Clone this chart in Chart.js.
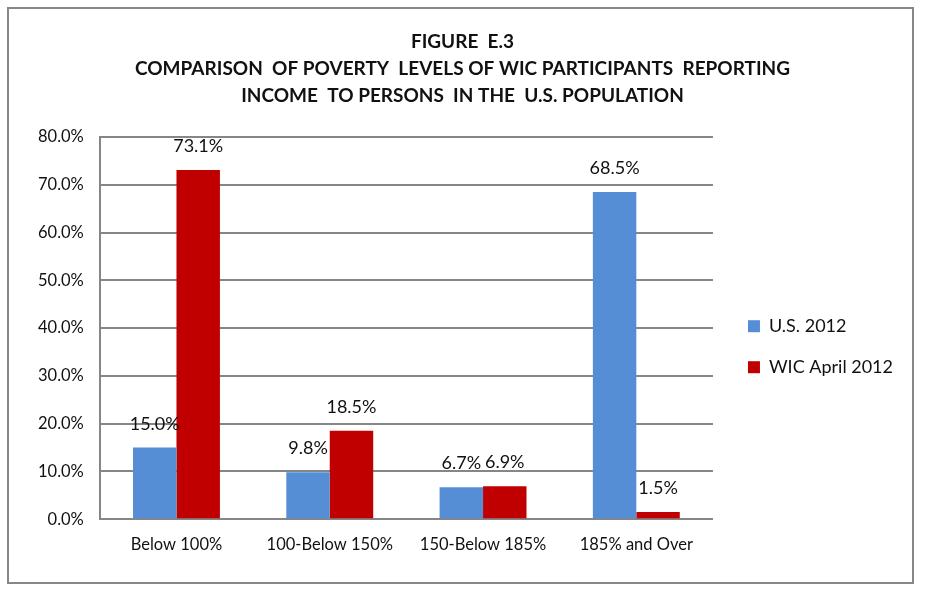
<!DOCTYPE html>
<html lang="en">
<head>
<meta charset="UTF-8">
<title>Figure E.3</title>
<script src="https://cdn.jsdelivr.net/npm/chart.js"></script>
<style>
  body { margin: 0; background: #fff; }
  #wrap { position: relative; width: 925px; height: 590px; }
  #frame { position: absolute; left: 7px; top: 7px; width: 903px; height: 573px; border: 2px solid #878787; pointer-events: none; }
</style>
</head>
<body>
<div id="wrap">
  <canvas id="grafico" width="925" height="590"></canvas>
  <div id="frame"></div>
</div>
<script>
  // dados
  const categorias = ['Below 100%', '100-Below 150%', '150-Below 185%', '185% and Over'];
  const us2012 = [15.0, 9.8, 6.7, 68.5];
  const wic2012 = [73.1, 18.5, 6.9, 1.5];
  const titulo = ['FIGURE  E.3', 'COMPARISON  OF POVERTY  LEVELS OF WIC PARTICIPANTS  REPORTING', 'INCOME  TO PERSONS  IN THE  U.S. POPULATION'];

  const fonte = 'Lato';
  const cinza = '#868686';

  // rotulos em cima das barras
  const rotulos = {
    id: 'rotulos',
    afterDatasetsDraw(chart) {
      const ctx = chart.ctx;
      ctx.save();
      ctx.font = '18px ' + fonte;
      ctx.fillStyle = '#111';
      ctx.textAlign = 'center';
      ctx.textBaseline = 'alphabetic';
      chart.data.datasets.forEach((ds, i) => {
        chart.getDatasetMeta(i).data.forEach((bar, j) => {
          ctx.fillText(ds.data[j].toFixed(1) + '%', bar.x, bar.y - 18);
        });
      });
      ctx.restore();
    }
  };

  const grafico = new Chart(document.getElementById('grafico'), {
    type: 'bar',
    data: {
      labels: categorias,
      datasets: [
        { label: 'U.S. 2012', data: us2012, backgroundColor: '#558ED5' },
        { label: 'WIC April 2012', data: wic2012, backgroundColor: '#C00000' }
      ]
    },
    options: {
      responsive: false,
      animation: false,
      devicePixelRatio: 1,
      datasets: { bar: { barPercentage: 1, categoryPercentage: 0.567 } },
      layout: { padding: { left: 22, right: 22, bottom: 19, top: 0 } },
      plugins: {
        tooltip: { enabled: false },
        title: {
          display: true,
          text: titulo,
          color: '#111',
          font: { family: fonte, size: 19, weight: 'bold', lineHeight: 1.42 },
          padding: { top: 28, bottom: 28 }
        },
        legend: {
          position: 'right',
          maxWidth: 260,
          title: { display: true, text: ' ', font: { size: 12, lineHeight: 1.2 }, padding: { top: 54, bottom: 54 } },
          labels: {
            color: '#111',
            font: { family: fonte, size: 18 },
            boxWidth: 12,
            boxHeight: 12,
            padding: 23
          }
        }
      },
      scales: {
        x: {
          grid: { display: false, drawTicks: false },
          border: { display: true, color: cinza, width: 2 },
          ticks: { color: '#111', font: { family: fonte, size: 16.5 }, padding: 16 }
        },
        y: {
          min: 0,
          max: 80,
          grid: { color: cinza, lineWidth: 2, drawTicks: false },
          border: { display: true, color: cinza, width: 2 },
          ticks: {
            stepSize: 10,
            color: '#111',
            font: { family: fonte, size: 16.5 },
            padding: 16,
            callback: v => v.toFixed(1) + '%'
          }
        },
        // espaco entre o grafico e a legenda
        espaco: {
          position: 'right',
          display: true,
          grid: { display: false, drawTicks: false },
          border: { display: false },
          ticks: { display: false },
          afterFit: s => { s.width = 12; }
        }
      }
    },
    plugins: [rotulos]
  });
</script>
</body>
</html>
